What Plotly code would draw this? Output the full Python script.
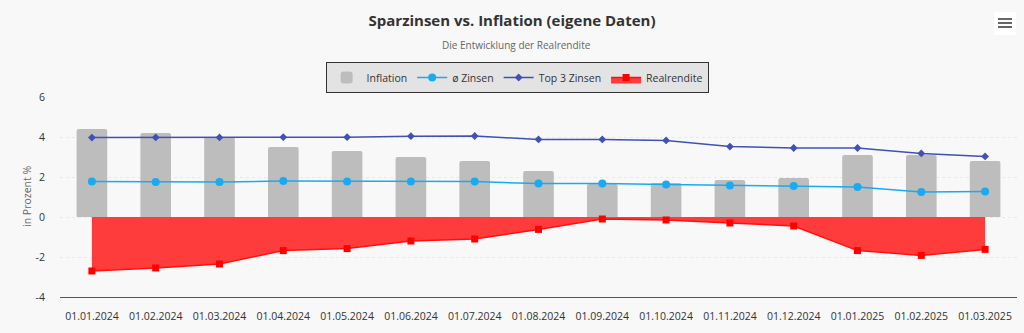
import plotly.graph_objects as go

# Monthly data points
dates = ["01.01.2024", "01.02.2024", "01.03.2024", "01.04.2024", "01.05.2024",
         "01.06.2024", "01.07.2024", "01.08.2024", "01.09.2024", "01.10.2024",
         "01.11.2024", "01.12.2024", "01.01.2025", "01.02.2025", "01.03.2025"]
inflation = [4.4, 4.2, 4.0, 3.5, 3.3, 3.0, 2.8, 2.3, 1.65, 1.7, 1.85, 1.95, 3.1, 3.1, 2.8]
avg_rates = [1.78, 1.75, 1.75, 1.8, 1.78, 1.77, 1.77, 1.67, 1.68, 1.63, 1.58, 1.55, 1.5, 1.25, 1.27]
top3_rates = [3.97, 3.98, 3.98, 3.99, 3.99, 4.04, 4.05, 3.88, 3.88, 3.83, 3.52, 3.45, 3.45, 3.18, 3.03]
real_return = [-2.7, -2.55, -2.35, -1.68, -1.58, -1.2, -1.1, -0.62, -0.1, -0.15, -0.3, -0.45, -1.68, -1.92, -1.62]
y_ticks = [-4, -2, 0, 2, 4, 6]
y_tick_labels = ["-4", "-2", "0", "2", "4", "6"]

FONT = "Open Sans, Noto Sans, sans-serif"
BG = "#f8f8f8"

fig = go.Figure()

fig.add_trace(go.Bar(
    x=dates, y=inflation, name="Inflation",
    marker=dict(color="#bdbdbd", line=dict(width=0)),
    width=0.48,
))

fig.add_trace(go.Scatter(
    x=dates, y=avg_rates, name="ø Zinsen", mode="lines+markers",
    line=dict(color="#1aaaf0", width=1.5),
    marker=dict(color="#1aaaf0", size=8, symbol="circle"),
))

fig.add_trace(go.Scatter(
    x=dates, y=top3_rates, name="Top 3 Zinsen", mode="lines+markers",
    line=dict(color="#3f51b5", width=1.5),
    marker=dict(color="#3f51b5", size=6, symbol="diamond"),
))

fig.add_trace(go.Scatter(
    x=dates, y=real_return, name="Realrendite", mode="lines+markers",
    fill="tozeroy", fillcolor="rgba(255,60,60,1)",
    line=dict(color="#ff1010", width=1.5),
    marker=dict(color="#ff0000", size=7, symbol="square"),
))

fig.update_layout(
    width=1024, height=333,
    margin=dict(l=60, r=7, t=97, b=36, autoexpand=False),
    paper_bgcolor=BG, plot_bgcolor=BG,
    font=dict(family=FONT, size=10.5, color="#333333"),
    barcornerradius=2,
    showlegend=True,
    title=dict(
        text="<b>Sparzinsen vs. Inflation (eigene Daten)</b>",
        x=0.5, xref="container", xanchor="center",
        y=1 - 21 / 333, yref="container", yanchor="middle",
        font=dict(family=FONT, size=15, color="#333333"),
    ),
    legend=dict(
        orientation="h",
        x=0.505, xref="container", xanchor="center",
        y=1 - 62 / 333, yref="container", yanchor="top",
        bgcolor="#e3e3e3", bordercolor="#333333", borderwidth=1,
        font=dict(family=FONT, size=10.5, color="#333333"),
        itemwidth=30,
        traceorder="normal",
        tracegroupgap=0,
    ),
    xaxis=dict(
        type="category",
        range=[-0.5, len(dates) - 0.5],
        showgrid=False,
        showline=True, linecolor="#555555", linewidth=1,
        ticks="outside", ticklen=9, tickcolor=BG,
        tickfont=dict(size=10.5, color="#333333"),
        zeroline=False,
        automargin=False,
    ),
    yaxis=dict(
        range=[-4, 6],
        tickvals=y_ticks,
        ticktext=y_tick_labels,
        showgrid=True, gridcolor="#e8e8e8", griddash="dot", gridwidth=1,
        zeroline=False,
        showline=False,
        ticks="outside", ticklen=12, tickcolor=BG,
        tickfont=dict(size=10.5, color="#333333"),
        automargin=False,
    ),
)

# Y axis title
fig.add_annotation(
    text="in Prozent %",
    xref="paper", yref="paper",
    x=(27 - 60) / 957, y=0.5,
    xanchor="center", yanchor="middle", textangle=-90,
    showarrow=False,
    font=dict(family=FONT, size=10.5, color="#666666"),
)

# Subtitle
fig.add_annotation(
    text="Die Entwicklung der Realrendite",
    xref="paper", yref="paper",
    x=(516 - 60) / 957, y=(297 - 45) / 200,
    xanchor="center", yanchor="middle",
    showarrow=False,
    font=dict(family=FONT, size=10, color="#666666"),
)

# Menu button in the top right corner
fig.add_shape(
    type="rect", xref="paper", yref="paper",
    x0=(994 - 60) / 957, x1=(1016 - 60) / 957,
    y0=(297 - 35) / 200, y1=(297 - 12) / 200,
    fillcolor="#ffffff", line=dict(width=0), layer="above",
)
for py in (19, 23, 27):
    fig.add_shape(
        type="line", xref="paper", yref="paper",
        x0=(998 - 60) / 957, x1=(1012 - 60) / 957,
        y0=(297 - py) / 200, y1=(297 - py) / 200,
        line=dict(color="#666666", width=2), layer="above",
    )

fig.write_html("out.html")
